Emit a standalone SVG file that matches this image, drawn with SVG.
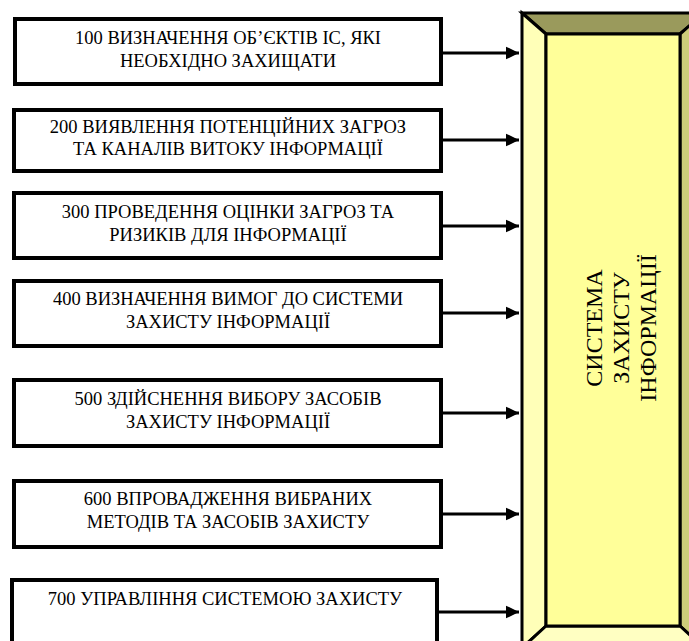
<svg xmlns="http://www.w3.org/2000/svg" width="689" height="641" viewBox="0 0 689 641">
<style>
.box{fill:#fff;stroke:#000;stroke-width:4}
.t{font-family:"Liberation Serif","Times New Roman",serif;font-size:18.5px;fill:#000;text-anchor:middle}
.v{font-family:"Liberation Serif","Times New Roman",serif;font-size:24px;fill:#000;text-anchor:middle}
.c{stroke:#000;stroke-width:3;fill:none}
.bev{stroke:#000;stroke-width:3;stroke-linejoin:miter}
</style>
<defs>
<marker id="ah" markerWidth="5" markerHeight="5" refX="4.5" refY="2.2" orient="auto" markerUnits="strokeWidth">
<path d="M0,0 L4.5,2.2 L0,4.4 Z" fill="#000"/>
</marker>
</defs>
<rect width="689" height="641" fill="#fff"/>
<g id="system">
<polygon class="bev" points="522,13 704,13 680,34 546,34" fill="#9a9a5c"/>
<polygon class="bev" points="522,13 546,34 546,626 522,648" fill="#ffffb8"/>
<polygon class="bev" points="704,13 704,648 680,626 680,34" fill="#cccc7a"/>
<polygon class="bev" points="546,626 680,626 704,648 522,648" fill="#ffffc2"/>
<rect x="546" y="34" width="134" height="592" fill="#ffff99" stroke="#000" stroke-width="3"/>
<g transform="translate(629,328) rotate(-90)">
<text class="v" x="0" y="-27">СИСТЕМА</text>
<text class="v" x="0" y="0">ЗАХИСТУ</text>
<text class="v" x="0" y="27">ІНФОРМАЦІЇ</text>
</g>
</g>
<g id="n100">
<rect class="box" x="15" y="19" width="426" height="65"/>
<text class="t" x="228" y="44">100 ВИЗНАЧЕННЯ ОБ’ЄКТІВ ІС, ЯКІ</text>
<text class="t" x="228" y="67">НЕОБХІДНО ЗАХИЩАТИ</text>
</g>
<g id="n200">
<rect class="box" x="14" y="110" width="427" height="61"/>
<text class="t" x="228" y="133">200 ВИЯВЛЕННЯ ПОТЕНЦІЙНИХ ЗАГРОЗ</text>
<text class="t" x="228" y="155">ТА КАНАЛІВ ВИТОКУ ІНФОРМАЦІЇ</text>
</g>
<g id="n300">
<rect class="box" x="14" y="193" width="427" height="65"/>
<text class="t" x="228" y="218">300 ПРОВЕДЕННЯ ОЦІНКИ ЗАГРОЗ ТА</text>
<text class="t" x="228" y="241">РИЗИКІВ ДЛЯ ІНФОРМАЦІЇ</text>
</g>
<g id="n400">
<rect class="box" x="14" y="281" width="427" height="65"/>
<text class="t" x="228" y="305">400 ВИЗНАЧЕННЯ ВИМОГ ДО СИСТЕМИ</text>
<text class="t" x="228" y="328">ЗАХИСТУ ІНФОРМАЦІЇ</text>
</g>
<g id="n500">
<rect class="box" x="14" y="380" width="427" height="66"/>
<text class="t" x="228" y="405">500 ЗДІЙСНЕННЯ ВИБОРУ ЗАСОБІВ</text>
<text class="t" x="228" y="428">ЗАХИСТУ ІНФОРМАЦІЇ</text>
</g>
<g id="n600">
<rect class="box" x="14" y="481" width="427" height="66"/>
<text class="t" x="228" y="505">600 ВПРОВАДЖЕННЯ  ВИБРАНИХ</text>
<text class="t" x="228" y="528">МЕТОДІВ ТА ЗАСОБІВ ЗАХИСТУ</text>
</g>
<g id="n700">
<rect class="box" x="12" y="580" width="425" height="70"/>
<text class="t" x="225" y="605">700 УПРАВЛІННЯ СИСТЕМОЮ ЗАХИСТУ</text>
</g>
<g id="connectors">
<line class="c" x1="443" y1="53" x2="519" y2="53" marker-end="url(#ah)"/>
<line class="c" x1="443" y1="140" x2="519" y2="140" marker-end="url(#ah)"/>
<line class="c" x1="443" y1="226" x2="519" y2="226" marker-end="url(#ah)"/>
<line class="c" x1="443" y1="313" x2="519" y2="313" marker-end="url(#ah)"/>
<line class="c" x1="443" y1="413" x2="519" y2="413" marker-end="url(#ah)"/>
<line class="c" x1="443" y1="514" x2="519" y2="514" marker-end="url(#ah)"/>
<line class="c" x1="439" y1="612" x2="519" y2="612" marker-end="url(#ah)"/>
</g>
</svg>
